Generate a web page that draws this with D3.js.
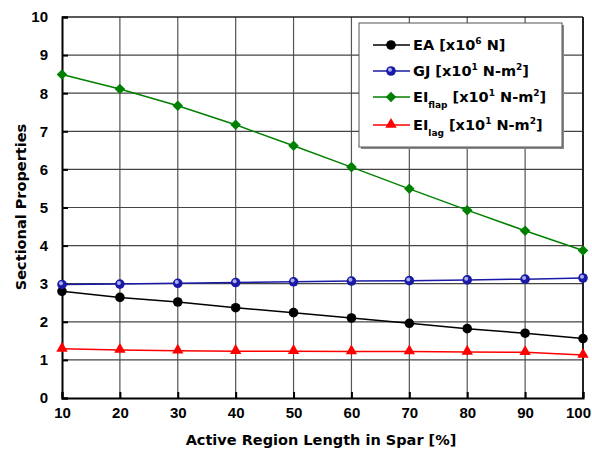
<!DOCTYPE html>
<html>
<head>
<meta charset="utf-8">
<script src="https://cdn.jsdelivr.net/npm/d3@7"></script>
<style>
  body { margin: 0; background: #fff; }
</style>
</head>
<body>
<div id="chart"></div>
<script>
// data
var lengths = [10, 20, 30, 40, 50, 60, 70, 80, 90, 100];
var EA     = [2.80, 2.64, 2.52, 2.37, 2.24, 2.10, 1.96, 1.82, 1.70, 1.56];
var GJ     = [2.98, 2.99, 3.01, 3.03, 3.05, 3.07, 3.08, 3.10, 3.12, 3.15];
var EIflap = [8.49, 8.11, 7.67, 7.17, 6.62, 6.06, 5.49, 4.93, 4.39, 3.87];
var EIlag  = [1.29, 1.26, 1.24, 1.23, 1.23, 1.22, 1.22, 1.21, 1.20, 1.13];
var xTicks = [10, 20, 30, 40, 50, 60, 70, 80, 90, 100];
var yTicks = [0, 1, 2, 3, 4, 5, 6, 7, 8, 9, 10];

var W = 592, H = 455;
var mLeft = 62, mRight = 583, mTop = 17, mBottom = 398;

var x = d3.scaleLinear().domain([10, 100]).range([mLeft, mRight]);
var y = d3.scaleLinear().domain([0, 10]).range([mBottom, mTop]);

var svg = d3.select("#chart").append("svg")
    .attr("width", W).attr("height", H);

// grid
svg.append("g").selectAll("line").data(xTicks.slice(1, -1)).enter().append("line")
    .attr("x1", d => x(d)).attr("x2", d => x(d))
    .attr("y1", mTop).attr("y2", mBottom)
    .attr("stroke", "#555").attr("stroke-width", 1.2);
svg.append("g").selectAll("line").data(yTicks.slice(1, -1)).enter().append("line")
    .attr("x1", mLeft).attr("x2", mRight)
    .attr("y1", d => y(d)).attr("y2", d => y(d))
    .attr("stroke", "#444").attr("stroke-width", 1.2);

// frame top/right
svg.append("line").attr("x1", mLeft).attr("x2", mRight).attr("y1", mTop).attr("y2", mTop)
    .attr("stroke", "#222").attr("stroke-width", 1.5);
svg.append("line").attr("x1", mRight).attr("x2", mRight).attr("y1", mTop).attr("y2", mBottom)
    .attr("stroke", "#222").attr("stroke-width", 2);

// axes
var xAxis = d3.axisBottom(x).tickValues(xTicks).tickSize(-6).tickPadding(12).tickFormat(d3.format("d"));
var yAxis = d3.axisLeft(y).tickValues(yTicks).tickSize(-6).tickPadding(14).tickFormat(d3.format("d"));

var gx = svg.append("g").attr("transform", `translate(0,${mBottom})`).call(xAxis);
var gy = svg.append("g").attr("transform", `translate(${mLeft},0)`).call(yAxis);
[gx, gy].forEach(function(g) {
  g.select(".domain").attr("stroke", "#000").attr("stroke-width", 2);
  g.selectAll(".tick line").attr("stroke", "#000").attr("stroke-width", 2);
  g.selectAll(".tick text")
    .style("font-family", "'Liberation Sans', Arial, sans-serif")
    .style("font-weight", "bold").style("font-size", "15px").attr("fill", "#000");
});
gx.selectAll(".tick text").attr("dy", "0.5em")
  .attr("dx", d => d === 100 ? -5 : 0);

// axis titles
svg.append("text")
    .attr("x", 321).attr("y", 445)
    .attr("text-anchor", "middle")
    .style("font-family", "'DejaVu Sans', Verdana, sans-serif")
    .style("font-weight", "bold").style("font-size", "14.5px")
    .text("Active Region Length in Spar [%]");
svg.append("text")
    .attr("transform", `translate(26,207) rotate(-90)`)
    .attr("text-anchor", "middle")
    .style("font-family", "'DejaVu Sans', Verdana, sans-serif")
    .style("font-weight", "bold").style("font-size", "14.5px")
    .text("Sectional Properties");

var series = [
  {name: "EA", values: EA, color: "#000", marker: "circle"},
  {name: "GJ", values: GJ, color: "#1a1aa6", marker: "ball"},
  {name: "EIflap", values: EIflap, color: "#008000", marker: "diamond"},
  {name: "EIlag", values: EIlag, color: "#ff0000", marker: "triangle"}
];

var line = d3.line().x((d, i) => x(lengths[i])).y(d => y(d));

function drawMarker(g, type, color, cx, cy) {
  if (type === "circle") {
    g.append("circle").attr("cx", cx).attr("cy", cy).attr("r", 4.8).attr("fill", color);
  } else if (type === "ball") {
    g.append("circle").attr("cx", cx).attr("cy", cy).attr("r", 4.8).attr("fill", color);
    g.append("circle").attr("cx", cx - 1).attr("cy", cy - 1.2).attr("r", 2).attr("fill", "#aab0ee");
  } else if (type === "diamond") {
    g.append("path").attr("transform", `translate(${cx},${cy}) rotate(45)`)
      .attr("d", d3.symbol().type(d3.symbolSquare).size(56)).attr("fill", color);
  } else {
    g.append("path").attr("transform", `translate(${cx},${cy - 0.5})`)
      .attr("d", d3.symbol().type(d3.symbolTriangle).size(56)).attr("fill", color);
  }
}

series.forEach(function(s) {
  var g = svg.append("g");
  g.append("path").datum(s.values).attr("d", line)
    .attr("fill", "none").attr("stroke", s.color).attr("stroke-width", 1.5);
  s.values.forEach(function(v, i) { drawMarker(g, s.marker, s.color, x(lengths[i]), y(v)); });
});

// legend
var lg = svg.append("g");
lg.append("rect").attr("x", 361).attr("y", 25).attr("width", 203).attr("height", 124).attr("fill", "#888");
lg.append("rect").attr("x", 359).attr("y", 23).attr("width", 203).attr("height", 124)
  .attr("fill", "#fff").attr("stroke", "#555").attr("stroke-width", 1);

var legendY = [45, 71, 97, 125];
var labels = [
  [["EA [x10", ""], ["6", "sup"], [" N]", ""]],
  [["GJ [x10", ""], ["1", "sup"], [" N-m", ""], ["2", "sup"], ["]", ""]],
  [["EI", ""], ["flap", "sub"], [" [x10", ""], ["1", "sup"], [" N-m", ""], ["2", "sup"], ["]", ""]],
  [["EI", ""], ["lag", "sub"], [" [x10", ""], ["1", "sup"], [" N-m", ""], ["2", "sup"], ["]", ""]]
];
series.forEach(function(s, i) {
  var ly = legendY[i];
  lg.append("line").attr("x1", 373).attr("x2", 410).attr("y1", ly).attr("y2", ly)
    .attr("stroke", s.color).attr("stroke-width", 1.5);
  drawMarker(lg, s.marker, s.color, 391, ly);
  var t = lg.append("text").attr("x", 413).attr("y", ly + 5)
    .style("font-family", "'DejaVu Sans', Verdana, sans-serif")
    .style("font-weight", "bold").style("font-size", "14.5px");
  var shift = 0;
  labels[i].forEach(function(p) {
    var target = p[1] === "sup" ? -6 : p[1] === "sub" ? 6 : 0;
    var ts = t.append("tspan").attr("dy", target - shift).text(p[0]);
    if (p[1]) ts.style("font-size", "9px");
    shift = target;
  });
});
</script>
</body>
</html>
